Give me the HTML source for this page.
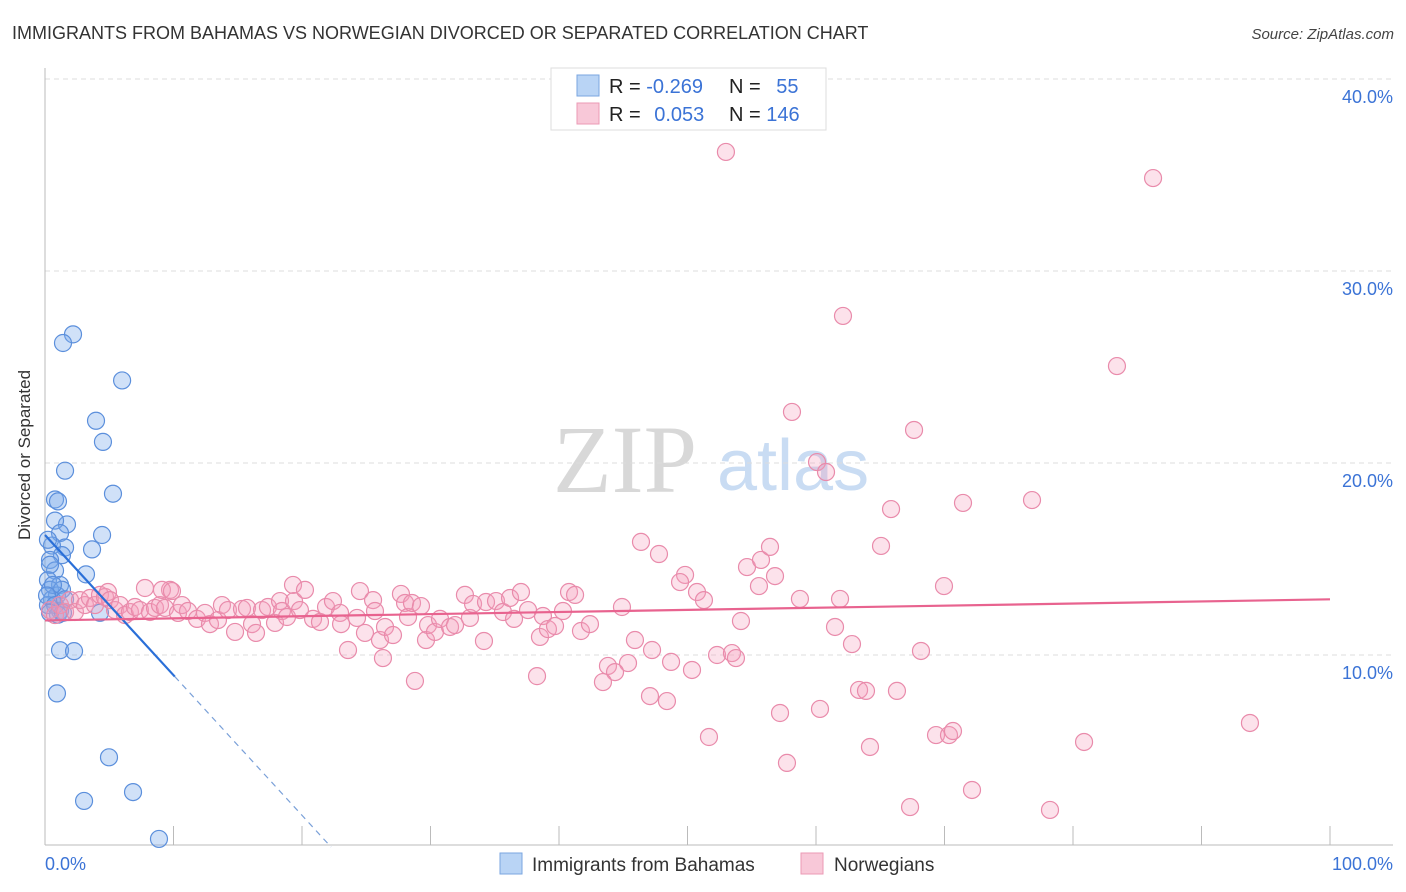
<!DOCTYPE html>
<html><head><meta charset="utf-8"><style>
body{margin:0;background:#fff;font-family:"Liberation Sans",sans-serif}
svg{display:block}
</style></head><body>
<svg id="chart" width="1406" height="892" viewBox="0 0 1406 892">
<text x="12" y="39" font-size="18" fill="#333">IMMIGRANTS FROM BAHAMAS VS NORWEGIAN DIVORCED OR SEPARATED CORRELATION CHART</text>
<text x="1394" y="39" font-size="15" fill="#444" font-style="italic" text-anchor="end">Source: ZipAtlas.com</text>
<g>
<text x="553" y="492" font-size="96" font-family="Liberation Serif,serif" fill="#d8d8d8">ZIP</text>
<text x="717" y="490" font-size="72" fill="#c9dcf3">atlas</text>
</g>
<g id="grid"></g>
<g id="axes"></g>
<g id="pts"></g>
<g id="trend"></g>
<text x="30" y="455" font-size="17" fill="#333" text-anchor="middle" transform="rotate(-90 30 455)">Divorced or Separated</text>
<text x="45" y="870" font-size="18" fill="#3b73d6">0.0%</text>
<text x="1393" y="870" font-size="18" fill="#3b73d6" text-anchor="end">100.0%</text>
<g>
<rect x="551" y="68" width="275" height="62" fill="#fff" stroke="#ddd"/>
<rect x="577" y="75" width="22" height="21" fill="#b9d4f5" stroke="#7aa6e0"/>
<rect x="577" y="103" width="22" height="21" fill="#f8c8d8" stroke="#eb9ab5"/>
<text x="609" y="93" font-size="20" fill="#222">R = <tspan fill="#3b73d6">-0.269</tspan></text>
<text x="729" y="93" font-size="20" fill="#222">N = <tspan fill="#3b73d6" dx="10">55</tspan></text>
<text x="609" y="121" font-size="20" fill="#222">R = <tspan fill="#3b73d6" dx="8">0.053</tspan></text>
<text x="729" y="121" font-size="20" fill="#222">N = <tspan fill="#3b73d6">146</tspan></text>
</g>
<g>
<rect x="500" y="853" width="22" height="21" fill="#b9d4f5" stroke="#7aa6e0"/>
<text x="532" y="871" font-size="19" fill="#333">Immigrants from Bahamas</text>
<rect x="801" y="853" width="22" height="21" fill="#f8c8d8" stroke="#eb9ab5"/>
<text x="834" y="871" font-size="19" fill="#333">Norwegians</text>
</g>
</svg>
<script>
const yTicks=[10,20,30,40];
const yTickLabels=["10.0%","20.0%","30.0%","40.0%"];
const xTicks=[0,10,20,30,40,50,60,70,80,90,100];
const blueX=[2.18,1.40,6.0,3.97,4.51,1.56,5.29,0.78,1.01,1.71,4.44,0.78,1.17,3.66,1.56,0.54,1.32,0.39,3.19,0.78,0.23,1.17,0.39,0.93,1.32,0.54,0.23,1.17,4.28,1.17,2.26,0.93,4.98,3.04,6.85,8.87,0.23,0.39,0.62,0.16,0.78,1.01,0.39,1.56,1.40];
const blueY=[26.7,26.25,24.3,22.2,21.1,19.6,18.4,18.1,18.0,16.8,16.25,17.0,16.35,15.5,15.6,15.7,15.2,14.95,14.2,14.4,13.9,13.65,13.4,13.1,13.4,12.9,12.6,12.3,12.2,10.25,10.2,8.0,4.67,2.4,2.86,0.42,16.0,14.7,13.65,13.1,12.6,12.1,12.2,12.9,12.2];
const pinkX=[0.39,0.78,1.17,1.56,1.95,2.33,2.72,3.11,3.5,3.89,4.28,4.67,4.9,5.06,5.45,5.84,6.23,6.61,7.0,7.39,7.78,8.17,8.56,8.95,9.34,9.73,
9.1,9.88,10.35,10.66,11.13,11.83,12.45,12.84,13.46,13.77,14.24,14.79,15.33,15.72,16.11,16.42,16.89,17.35,17.9,18.29,18.44,18.83,19.3,19.38,19.84,20.23,20.86,21.4,21.87,22.41,22.96,23.04,23.58,24.28,24.51,24.9,25.53,25.68,26.07,26.46,27.08,27.7,28.02,28.25,28.56,29.26,29.65,29.81,30.35,30.74,31.52,31.91,32.68,33.07,33.31,34.32,34.16,35.1,35.64,36.19,36.5,37.04,37.59,38.52,38.75,39.14,39.69,40.31,40.78,41.25,41.71,42.41,
46.38,47.78,49.81,49.42,50.74,51.28,44.9,54.16,54.63,55.72,56.42,56.81,55.56,58.75,61.87,61.48,62.8,65.84,65.06,69.96,68.17,45.91,47.24,45.37,43.81,44.36,43.42,48.72,50.35,52.3,53.46,53.77,47.08,48.4,51.67,57.2,57.74,60.31,63.35,63.89,66.3,64.2,69.34,70.35,70.66,67.32,72.14,78.21,80.86,71.44,76.81,
52.99,86.23,62.1,83.42,58.13,67.63,60.08,60.78,93.77,28.79,38.29,26.3];
const pinkY=[12.34,12.08,12.6,12.24,12.86,12.24,12.86,12.6,12.97,12.6,13.13,13.02,13.28,12.86,12.34,12.6,12.08,12.24,12.5,12.34,13.49,12.24,12.45,12.6,12.45,13.39,
13.39,13.33,12.19,12.6,12.29,11.88,12.19,11.61,11.82,12.6,12.34,11.2,12.4,12.45,11.61,11.15,12.34,12.5,11.67,12.81,12.29,11.98,13.65,12.81,12.34,13.39,11.88,11.72,12.5,12.81,12.19,11.61,10.26,11.93,13.33,11.15,12.86,12.29,10.78,11.46,11.04,13.18,12.71,11.98,12.71,12.55,10.78,11.56,11.2,11.88,11.46,11.56,13.13,11.93,12.66,12.76,10.73,12.81,12.24,12.97,11.88,13.28,12.34,10.94,12.03,11.35,11.51,12.29,13.28,13.13,11.25,11.61,
15.89,15.26,14.17,13.8,13.28,12.86,12.5,11.77,14.58,14.95,15.63,14.11,13.59,12.92,12.92,11.46,10.57,17.6,15.68,13.59,10.21,10.78,10.26,9.58,9.43,9.11,8.59,9.64,9.22,10.0,10.1,9.84,7.86,7.6,5.73,6.98,4.38,7.19,8.18,8.13,8.13,5.21,5.83,5.83,6.04,2.08,2.97,1.93,5.47,17.92,18.07,
36.2,34.84,27.66,25.05,22.66,21.72,20.05,19.53,6.46,8.65,8.9,9.84];
const blueTrend=[16.25,-0.73];
const pinkTrend=[11.8,12.9];
const NS="http://www.w3.org/2000/svg";
const X=v=>45+v*12.85, Y=v=>847-v*19.2;
function mk(tag,parent,attrs){const e=document.createElementNS(NS,tag);for(const k in attrs)e.setAttribute(k,attrs[k]);document.getElementById(parent).appendChild(e);return e;}
yTicks.forEach((t,i)=>{
 const l=mk('line','grid',{x1:45,x2:1393,y1:Y(t),y2:Y(t),stroke:'#ddd','stroke-dasharray':'5,4'});
 
 
 const tx=mk('text','grid',{x:1393,y:Y(t)+24,'font-size':18,fill:'#3b73d6','text-anchor':'end'});
 tx.textContent=yTickLabels[i];
 
 
});
let a=mk('line','axes',{x1:45,x2:45,y1:68,y2:845,stroke:'#bbb'});


a=mk('line','axes',{x1:45,x2:1393,y1:845,y2:845,stroke:'#bbb'});


xTicks.forEach(t=>{
 const l=mk('line','axes',{x1:X(t),x2:X(t),y1:826,y2:845,stroke:'#bbb'});
 
 
});
blueX.forEach((v,i)=>{
 const c=mk('circle','pts',{cx:X(v),cy:Y(blueY[i]),r:8.5,fill:'rgba(120,170,235,0.35)',stroke:'#5b8fdc','stroke-width':1.2});
 
 
});
pinkX.forEach((v,i)=>{
 const c=mk('circle','pts',{cx:X(v),cy:Y(pinkY[i]),r:8.5,fill:'rgba(245,160,190,0.3)',stroke:'#e98bab','stroke-width':1.2});
 
 
});
const bx0=0,bx1=10.1,bxEnd=-blueTrend[0]/blueTrend[1];
let t=mk('line','trend',{x1:X(bx0),y1:Y(blueTrend[0]),x2:X(bx1),y2:Y(blueTrend[0]+blueTrend[1]*bx1),stroke:'#2a6fd8','stroke-width':2.2});


t=mk('line','trend',{x1:X(bx1),y1:Y(blueTrend[0]+blueTrend[1]*bx1),x2:X(bxEnd),y2:Y(0),stroke:'#7aa0d8','stroke-width':1.2,'stroke-dasharray':'6,5'});


t=mk('line','trend',{x1:X(0),y1:Y(pinkTrend[0]),x2:X(100),y2:Y(pinkTrend[1]),stroke:'#e8638f','stroke-width':2.2});


</script>
</body></html>
